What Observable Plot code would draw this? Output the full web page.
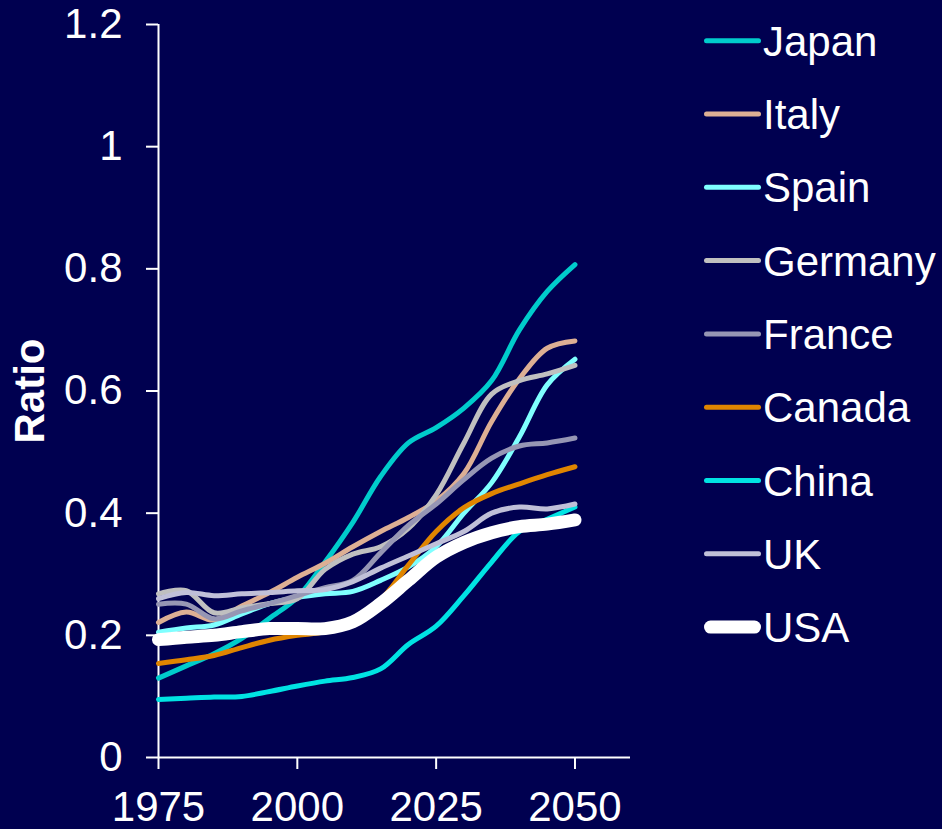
<!DOCTYPE html>
<html>
<head>
<meta charset="utf-8">
<script src="https://cdn.jsdelivr.net/npm/d3@7"></script>
<script src="https://cdn.jsdelivr.net/npm/@observablehq/plot@0.6"></script>
<style>
  html, body { margin: 0; padding: 0; background: #000050; }
  #wrap { position: relative; width: 942px; height: 829px; background: #000050; overflow: hidden; }
  #legend { position: absolute; left: 0; top: 0; }
</style>
</head>
<body>
<div id="wrap"></div>
<script>
// Old-age dependency ratio projections, 5-year steps
const years = [1975, 1980, 1985, 1990, 1995, 2000, 2005, 2010, 2015, 2020, 2025, 2030, 2035, 2040, 2045, 2050];

const japan   = [0.130, 0.150, 0.170, 0.195, 0.228, 0.262, 0.320, 0.385, 0.460, 0.515, 0.540, 0.572, 0.617, 0.700, 0.763, 0.807];
const italy   = [0.221, 0.238, 0.225, 0.248, 0.270, 0.295, 0.318, 0.345, 0.370, 0.393, 0.420, 0.465, 0.550, 0.620, 0.670, 0.682];
const spain   = [0.205, 0.212, 0.217, 0.235, 0.252, 0.262, 0.268, 0.272, 0.290, 0.312, 0.345, 0.400, 0.450, 0.525, 0.610, 0.652];
const germany = [0.268, 0.273, 0.237, 0.245, 0.252, 0.260, 0.308, 0.333, 0.345, 0.375, 0.430, 0.515, 0.595, 0.617, 0.628, 0.642];
const france  = [0.251, 0.251, 0.227, 0.240, 0.252, 0.265, 0.278, 0.290, 0.335, 0.380, 0.415, 0.455, 0.490, 0.510, 0.515, 0.523];
const canada  = [0.154, 0.160, 0.167, 0.180, 0.192, 0.200, 0.206, 0.224, 0.258, 0.315, 0.370, 0.409, 0.432, 0.448, 0.463, 0.476];
const china   = [0.095, 0.097, 0.099, 0.100, 0.108, 0.117, 0.125, 0.131, 0.145, 0.185, 0.215, 0.265, 0.320, 0.370, 0.390, 0.410];
const uk      = [0.260, 0.270, 0.265, 0.268, 0.270, 0.273, 0.275, 0.288, 0.310, 0.330, 0.350, 0.370, 0.400, 0.410, 0.407, 0.415];
const usa     = [0.193, 0.197, 0.200, 0.206, 0.211, 0.211, 0.211, 0.222, 0.252, 0.290, 0.328, 0.352, 0.368, 0.378, 0.382, 0.389];

const countries = ["Japan", "Italy", "Spain", "Germany", "France", "Canada", "China", "UK", "USA"];
const seriesValues = [japan, italy, spain, germany, france, canada, china, uk, usa];

const yTicks = [0, 0.2, 0.4, 0.6, 0.8, 1, 1.2];
const yTickLabels = ["0", "0.2", "0.4", "0.6", "0.8", "1", "1.2"];
const xTicks = [1975, 2000, 2025, 2050];
const xTickLabels = ["1975", "2000", "2025", "2050"];
const yLabel = "Ratio";

// line styling per country
const strokes = ["#00CCCC", "#DDAF94", "#7FFFFF", "#C0C0C0", "#9696B4", "#E08500", "#00E3E3", "#C0C0D8", "#FFFFFF"];
const widths  = [5, 5, 5, 5, 5, 5, 5, 5, 13];

const font = "'Liberation Sans', Arial, sans-serif";
const fontSize = 42;

const rows = countries.flatMap((c, i) =>
  years.map((year, j) => ({ country: c, year, value: seriesValues[i][j] }))
);

const lineMarks = countries.map((c, i) =>
  Plot.line(rows.filter(d => d.country === c), {
    x: "year", y: "value", curve: "catmull-rom",
    stroke: strokes[i], strokeWidth: widths[i],
    strokeLinecap: "round", strokeLinejoin: "round"
  })
);

const chart = Plot.plot({
  width: 942,
  height: 829,
  marginLeft: 158,
  marginRight: 312,
  marginTop: 24,
  marginBottom: 72,
  style: { background: "#000050", color: "white", fontFamily: font, fontSize: fontSize + "px", overflow: "visible" },
  x: { domain: [1975, 2060] },
  y: { domain: [0, 1.2] },
  marks: [
    Plot.ruleX([1975], { stroke: "white", strokeWidth: 2 }),
    Plot.ruleY([0], { stroke: "white", strokeWidth: 2 }),
    Plot.axisY(yTicks, {
      tickFormat: (d, i) => yTickLabels[i], tickSize: 12, tickPadding: 24,
      stroke: "white", strokeWidth: 2, fill: "white", label: null, fontSize
    }),
    Plot.axisX(xTicks, {
      tickFormat: (d, i) => xTickLabels[i], tickSize: 12, tickPadding: 22,
      stroke: "white", strokeWidth: 2, fill: "white", label: null, fontSize
    }),
    Plot.text([yLabel], {
      frameAnchor: "left", rotate: -90, dx: -128, fill: "white",
      fontWeight: "bold", fontSize, textAnchor: "middle"
    }),
    ...lineMarks
  ]
});

const wrap = document.getElementById("wrap");
wrap.appendChild(chart);

// legend to the right of the plot
const legend = d3.create("svg")
  .attr("id", "legend")
  .attr("width", 942)
  .attr("height", 829)
  .style("pointer-events", "none");

const row0 = 40.7, rowStep = 73.3;
const item = legend.selectAll("g").data(countries).join("g")
  .attr("transform", (d, i) => `translate(0,${row0 + i * rowStep})`);

item.append("line")
  .attr("x1", (d, i) => 704 + widths[i] / 2)
  .attr("x2", (d, i) => 761 - widths[i] / 2)
  .attr("y1", 0).attr("y2", 0)
  .attr("stroke", (d, i) => strokes[i])
  .attr("stroke-width", (d, i) => widths[i])
  .attr("stroke-linecap", "round");

item.append("text")
  .attr("x", 763)
  .attr("y", fontSize * 0.716 / 2)
  .attr("fill", "white")
  .attr("font-family", font)
  .attr("font-size", fontSize)
  .text(d => d);

wrap.appendChild(legend.node());
</script>
</body>
</html>
